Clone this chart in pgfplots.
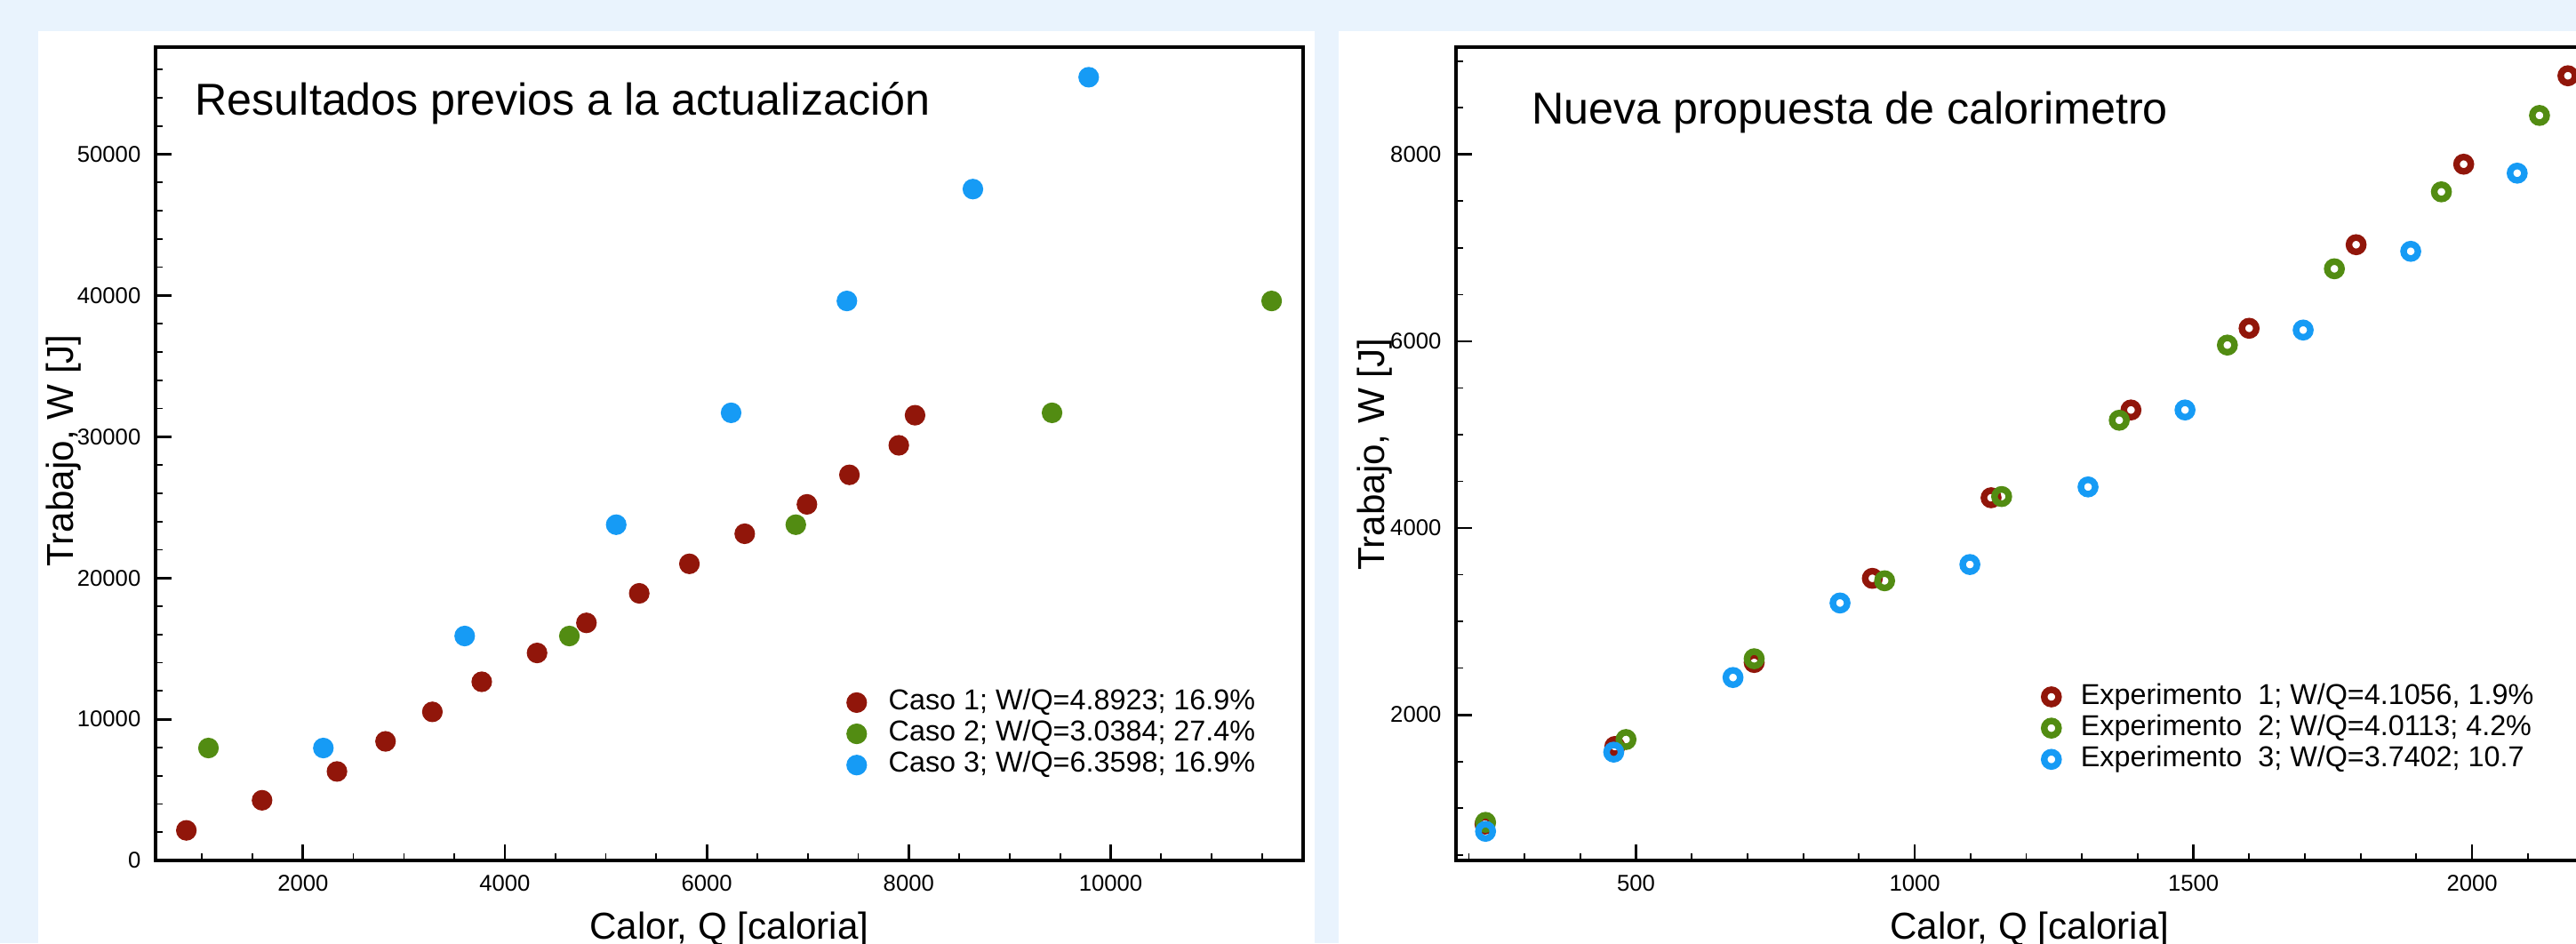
\documentclass[border=0pt]{standalone}
\usepackage{fontspec}
\setmainfont{Liberation Sans}
\usepackage{pgfplots}
\pgfplotsset{compat=1.18}
\definecolor{casored}{RGB}{145,22,10}
\definecolor{casogreen}{RGB}{82,140,18}
\definecolor{casoblue}{RGB}{22,155,245}
\definecolor{panelbg}{RGB}{233,243,253}

\pgfplotsset{
  calor/.style={
    scale only axis, width=12.91cm, height=9.15cm,
    anchor=south west,
    axis line style={line width=0.9pt},
    tick align=inside, tick pos=left,
    major tick length=0.18cm, minor tick length=0.08cm,
    every major tick/.style={line width=0.8pt, black},
    every minor tick/.style={line width=0.5pt, black},
    scaled ticks=false,
    /pgf/number format/1000 sep={},
    /pgf/number format/assume math mode=true,
    tick label style={font=\fontsize{7.3}{8}\selectfont, inner sep=0pt},
    xticklabel style={yshift=-0.16cm},
    yticklabel style={xshift=-0.16cm},
    label style={font=\fontsize{12}{14}\selectfont},
    xlabel style={at={(axis description cs:0.5,-0.063)}, anchor=north, inner sep=0pt},
    ylabel style={anchor=center, inner sep=0pt},
    legend cell align=left,
    legend style={draw=none, fill=none, anchor=north west, inner sep=0pt,
      row sep=1.6pt, font=\fontsize{9.2}{10.2}\selectfont,
      nodes={inner sep=0pt, text height=6.5pt, text depth=1.9pt},
      /tikz/every odd column/.style={column sep=0.25cm}},
    legend image code/.code={\draw[mark repeat=2,mark phase=2,#1]
      plot coordinates {(0cm,0cm) (0.11cm,0cm) (0.22cm,0cm)};},
  },
  lleno/.style={only marks, mark=*, mark size=3.1pt, color=#1,
    mark options={draw=#1, fill=#1}},
  hueco/.style={only marks, mark=o, mark size=2.3pt, color=#1,
    mark options={draw=#1, line width=2.1pt}},
}

% caso 1,2,3: resultados previos
\pgfplotstableread{
q w
845 2130
1595 4260
2337 6300
2818 8430
3282 10520
3771 12650
4319 14690
4808 16820
5331 18910
5828 21000
6376 23130
6992 25210
7413 27300
7902 29390
8063 31520
}\casouno
\pgfplotstableread{
q w
1064 7960
4639 15890
6882 23770
9420 31690
11595 39610
}\casodos
\pgfplotstableread{
q w
2202 7960
3602 15890
5103 23770
6241 31690
7388 39610
8636 47530
9783 55450
}\casotres

% experimentos con el calorimetro nuevo
\pgfplotstableread{
q w
229 830
462 1660
712 2560
924 3461
1137 4324
1388 5264
1600 6139
1792 7034
1985 7896
2172 8843
}\expuno
\pgfplotstableread{
q w
230 848
482 1735
712 2600
946 3435
1156 4337
1367 5154
1561 5959
1753 6776
1945 7600
2121 8418
}\expdos
\pgfplotstableread{
q w
230 752
460 1600
674 2399
866 3197
1099 3609
1311 4440
1485 5264
1697 6120
1890 6963
2081 7800
}\exptres

\begin{document}
\begin{tikzpicture}
\useasboundingbox (0,0) rectangle (28.98,10.61);
\clip (0,0) rectangle (28.98,10.61);
\fill[panelbg] (0,0) rectangle (28.98,10.61);
\fill[white] (0.43,0) rectangle (14.79,10.26);
\fill[white] (15.06,0) rectangle (28.98,10.26);

\begin{axis}[calor, at={(1.75cm,0.93cm)},
  xmin=540, xmax=11907, ymin=0, ymax=57580,
  xtick={2000,4000,...,10000}, minor xtick={1000,1500,...,11500},
  ytick={0,10000,...,50000}, minor ytick={2000,4000,...,56000},
  xlabel={Calor, Q [caloria]}, ylabel={Trabajo, W [J]},
  ylabel style={at={(axis description cs:-0.0798,0.504)}},
  legend style={at={(0.602,0.211)}},
]
\addplot[lleno=casored] table[x=q, y=w] {\casouno};
\addlegendentry{Caso 1; W/Q=4.8923; 16.9\%}
\addplot[lleno=casogreen] table[x=q, y=w] {\casodos};
\addlegendentry{Caso 2; W/Q=3.0384; 27.4\%}
\addplot[lleno=casoblue] table[x=q, y=w] {\casotres};
\addlegendentry{Caso 3; W/Q=6.3598; 16.9\%}
\node[anchor=base west, inner sep=0pt, font=\fontsize{14.3}{16}\selectfont]
  at (rel axis cs:0.034,0.9164) {Resultados previos a la actualización};
\end{axis}

\begin{axis}[calor, at={(16.38cm,0.93cm)},
  xmin=177, xmax=2236, ymin=440, ymax=9150,
  xtick={500,1000,1500,2000}, minor xtick={200,300,...,2200},
  ytick={2000,4000,6000,8000}, minor ytick={500,1000,...,9000},
  xlabel={Calor, Q [caloria]}, ylabel={Trabajo, W [J]},
  ylabel style={at={(axis description cs:-0.0705,0.4995)}},
  legend style={at={(0.512,0.218)}},
]
\addplot[hueco=casored] table[x=q, y=w] {\expuno};
\addlegendentry{Experimento\ \ 1; W/Q=4.1056, 1.9\%}
\addplot[hueco=casogreen] table[x=q, y=w] {\expdos};
\addlegendentry{Experimento\ \ 2; W/Q=4.0113; 4.2\%}
\addplot[hueco=casoblue] table[x=q, y=w] {\exptres};
\addlegendentry{Experimento\ \ 3; W/Q=3.7402; 10.7}
\node[anchor=base west, inner sep=0pt, font=\fontsize{14.3}{16}\selectfont]
  at (rel axis cs:0.0658,0.9055) {Nueva propuesta de calorimetro};
\end{axis}
\end{tikzpicture}
\end{document}
